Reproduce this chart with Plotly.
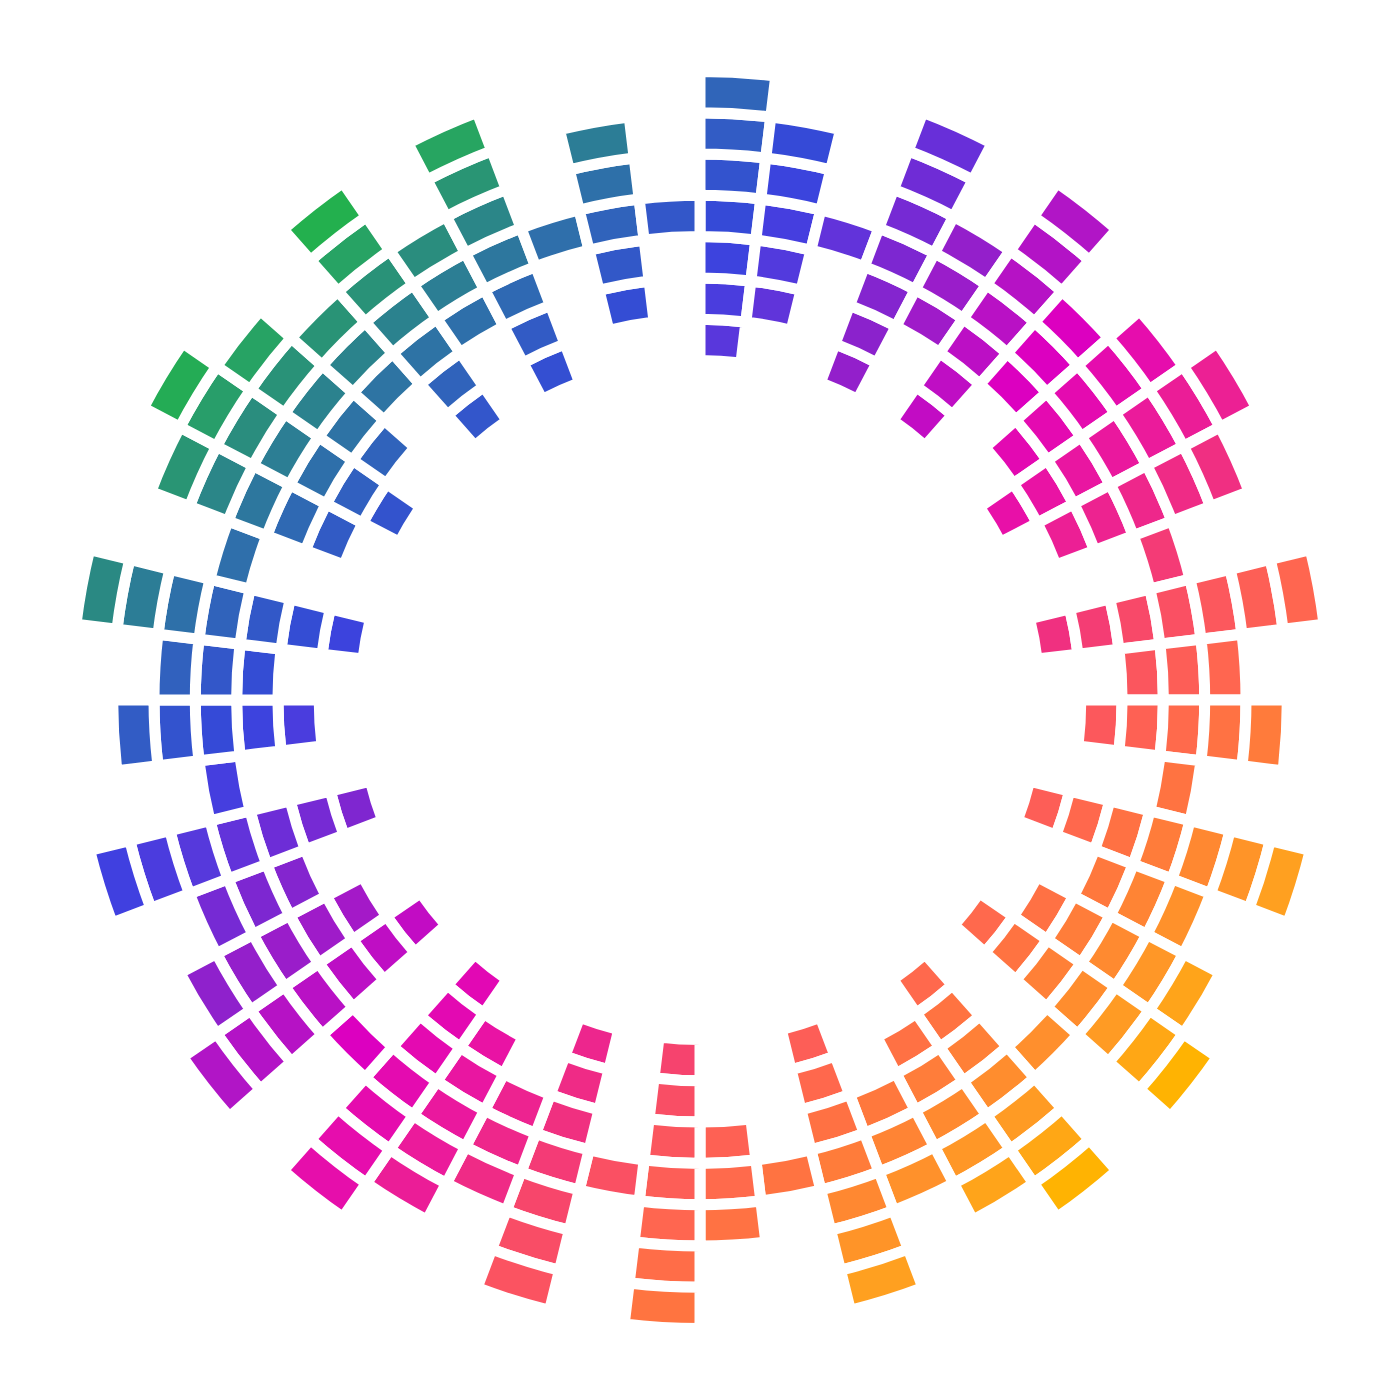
import math
import plotly.graph_objects as go

# Number of stacked cells in each of the 52 angular bins (clockwise from 12 o'clock).
# Each bar is centred on the middle ring (ring 3 of 7).
counts = [7, 5, 1, 7, 3, 7, 3, 5, 7, 5, 1, 7, 3, 5, 1, 7, 3, 5, 7, 1, 7, 5, 3, 7, 1, 3,
          7, 1, 7, 3, 5, 7, 1, 7, 5, 3, 7, 1, 5, 3, 7, 1, 5, 7, 5, 3, 7, 3, 7, 1, 5, 1]
n_rings = 7
mid_ring = 3

# styling / geometry
n_bins = len(counts)
bin_w = 360.0 / n_bins
unit_px = 41.3           # radial pitch of one cell in pixels
R_px = 700.0             # polar radius in pixels (full 1400 px figure)
base0 = 339.5 / unit_px  # inner radius of the first ring, in cell units
rmax = R_px / unit_px

colorscale = [
    [0.000, "#22b24c"], [0.035, "#27a462"], [0.087, "#2a8a82"], [0.140, "#2e72a6"],
    [0.180, "#3160c0"], [0.238, "#3549d8"], [0.267, "#4040e0"], [0.302, "#5838dc"],
    [0.326, "#6a2ed8"], [0.384, "#8c22cc"], [0.442, "#b214c6"], [0.500, "#dc00c0"],
    [0.570, "#e810a8"], [0.669, "#f03080"], [0.703, "#f8486a"], [0.785, "#ff6650"],
    [0.831, "#ff7440"], [0.942, "#ffa020"], [1.000, "#ffb400"],
]

thetas, bases, rs, cvals = [], [], [], []
for k, c in enumerate(counts):
    half = (c - 1) // 2
    th = (k + 0.5) * bin_w
    for j in range(mid_ring - half, mid_ring + half + 1):
        thetas.append(th)
        bases.append(base0 + j)
        rs.append(1.0)
        rc = (base0 + j + 0.5) * unit_px
        a = math.radians(th)
        # diagonal gradient (top-left -> bottom-right) in screen space
        cvals.append(rc * (math.sin(a) - math.cos(a)))

fig = go.Figure(go.Barpolar(
    theta=thetas,
    r=rs,
    base=bases,
    width=[bin_w] * len(thetas),
    marker=dict(
        color=cvals,
        colorscale=colorscale,
        cmin=-860, cmax=860,
        line=dict(color="white", width=11),
        showscale=False,
    ),
    hoverinfo="skip",
))

fig.update_layout(
    width=1400, height=1400,
    margin=dict(l=0, r=0, t=0, b=0),
    paper_bgcolor="white",
    showlegend=False,
    polar=dict(
        domain=dict(x=[0, 1], y=[0, 1]),
        bgcolor="white",
        hole=0,
        bargap=0,
        radialaxis=dict(range=[0, rmax], visible=False, showgrid=False),
        angularaxis=dict(direction="clockwise", rotation=90, visible=False,
                         showgrid=False, showline=False, showticklabels=False, ticks=""),
    ),
)

fig.write_html(
    "out.html",
    config={"displayModeBar": False},
    post_script="document.body.style.margin='0';document.body.style.overflow='hidden';",
)
